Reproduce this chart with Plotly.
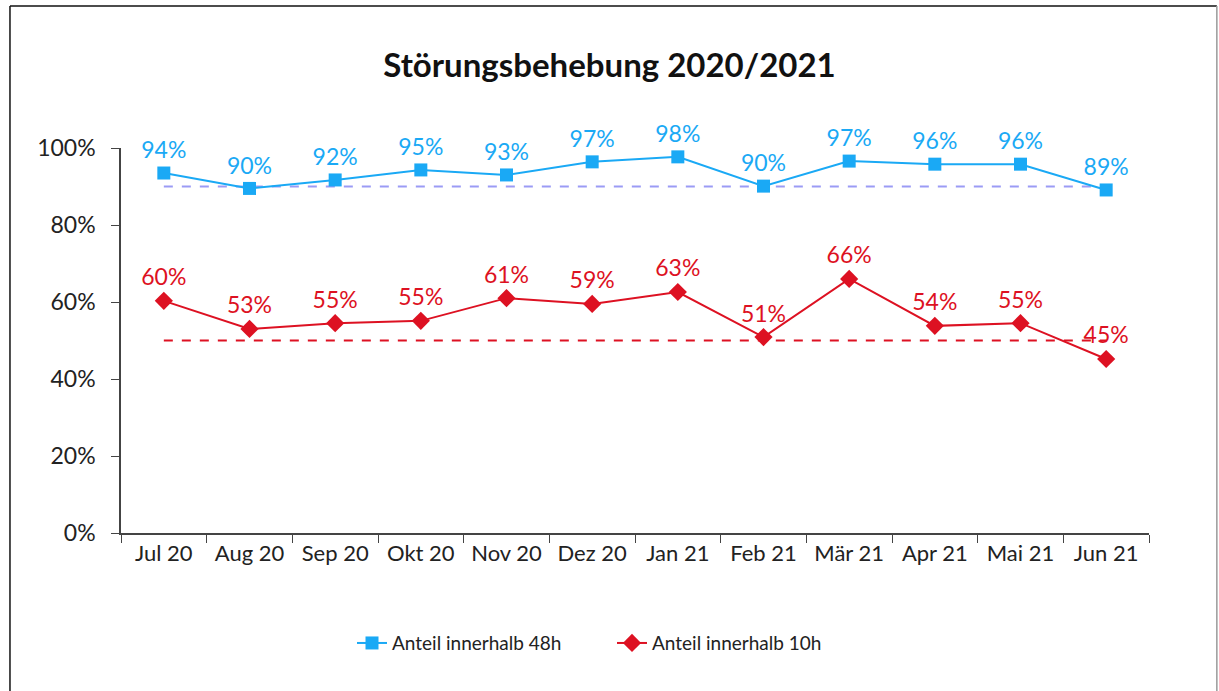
import plotly.graph_objects as go

months = ["Jul 20", "Aug 20", "Sep 20", "Okt 20", "Nov 20", "Dez 20",
          "Jan 21", "Feb 21", "Mär 21", "Apr 21", "Mai 21", "Jun 21"]
share_48h = [0.935, 0.895, 0.917, 0.943, 0.930, 0.964, 0.977, 0.901, 0.966, 0.958, 0.958, 0.891]
share_10h = [0.603, 0.530, 0.545, 0.551, 0.610, 0.595, 0.626, 0.509, 0.660, 0.538, 0.545, 0.452]
labels_48h = ["94%", "90%", "92%", "95%", "93%", "97%", "98%", "90%", "97%", "96%", "96%", "89%"]
labels_10h = ["60%", "53%", "55%", "55%", "61%", "59%", "63%", "51%", "66%", "54%", "55%", "45%"]
target_48h = [0.90] * len(months)
target_10h = [0.50] * len(months)

BLUE = "#1AA9F5"
RED = "#DD1122"
FONT = "Lato, Carlito, Calibri, sans-serif"

fig = go.Figure()
fig.add_trace(go.Scatter(x=months, y=target_48h, mode="lines", showlegend=False,
                         line=dict(color="#9B9BF5", width=2, dash="dash"), hoverinfo="skip"))
fig.add_trace(go.Scatter(x=months, y=target_10h, mode="lines", showlegend=False,
                         line=dict(color=RED, width=2, dash="dash"), hoverinfo="skip"))
fig.add_trace(go.Scatter(x=months, y=share_48h, mode="lines+markers+text", name="Anteil innerhalb 48h",
                         line=dict(color=BLUE, width=2), marker=dict(symbol="square", size=13, color=BLUE),
                         text=labels_48h, textposition="top center", cliponaxis=False,
                         textfont=dict(color=BLUE, size=23, family=FONT)))
fig.add_trace(go.Scatter(x=months, y=share_10h, mode="lines+markers+text", name="Anteil innerhalb 10h",
                         line=dict(color=RED, width=2), marker=dict(symbol="diamond", size=14, color=RED),
                         text=labels_10h, textposition="top center", cliponaxis=False,
                         textfont=dict(color=RED, size=23, family=FONT)))

fig.update_layout(
    width=1219, height=691,
    paper_bgcolor="white", plot_bgcolor="white",
    margin=dict(l=121, r=70, t=148, b=158),
    font=dict(family=FONT, color="#222222", size=21),
    title=dict(text="<b>Störungsbehebung 2020/2021</b>", x=0.5, xanchor="center",
               xref="container", y=1 - 65 / 691, yanchor="middle",
               font=dict(size=33, color="#111111", family=FONT)),
    xaxis=dict(type="category", range=[-0.5, 11.5], showline=True, linecolor="#444444", linewidth=1.5,
               ticks="outside", tickson="boundaries", ticklen=8, tickcolor="#444444",
               showgrid=False, tickfont=dict(size=22)),
    yaxis=dict(range=[0, 1], tickvals=[0, 0.2, 0.4, 0.6, 0.8, 1.0], tickformat=".0%",
               showline=True, linecolor="#444444", linewidth=1.5, ticks="outside", ticklen=8,
               tickcolor="#444444", showgrid=False, zeroline=False, tickfont=dict(size=23),
               ticklabelstandoff=11),
    legend=dict(orientation="h", x=(352 - 121) / 1028, xanchor="left", y=-0.286, yanchor="middle",
                font=dict(size=19), entrywidthmode="pixels", entrywidth=215),
    showlegend=True,
    shapes=[
        dict(type="line", xref="paper", yref="paper", x0=-0.108, x1=-0.108, y0=-0.6, y1=1.369,
             line=dict(color="#111111", width=1.5)),
        dict(type="line", xref="paper", yref="paper", x0=-0.108, x1=1.066, y0=1.369, y1=1.369,
             line=dict(color="#111111", width=1.5)),
        dict(type="line", xref="paper", yref="paper", x0=1.066, x1=1.066, y0=-0.6, y1=1.369,
             line=dict(color="#999999", width=1.5)),
    ],
)

fig.write_html("out.html", config={"displayModeBar": False},
               post_script="document.body.style.margin='0';document.body.style.overflow='hidden';")
